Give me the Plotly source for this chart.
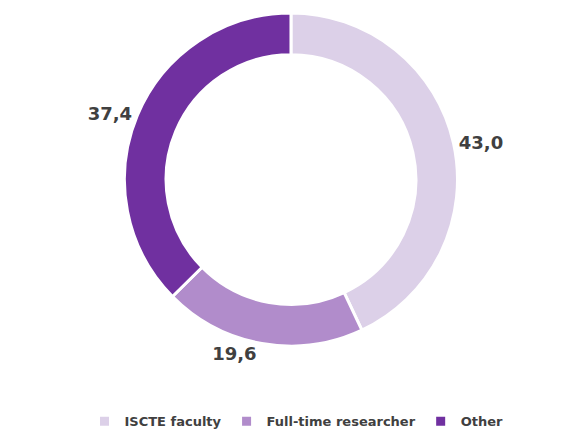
import plotly.graph_objects as go

categories = ["ISCTE faculty", "Full-time researcher", "Other"]
shares = [43.0, 19.6, 37.4]
colors = ["#DCD0E8", "#B18CCB", "#7030A0"]

TEXT = "#404040"
FONT = "DejaVu Sans"

fig = go.Figure(
    go.Pie(
        labels=categories,
        values=shares,
        hole=0.75,
        sort=False,
        direction="clockwise",
        rotation=0,
        domain=dict(x=[0, 0.974], y=[0.229, 1.0]),
        marker=dict(colors=colors, line=dict(color="white", width=3)),
        textposition="outside",
        texttemplate="%{value:.1f}",
        textfont=dict(size=18, color=TEXT, family=FONT, weight="bold"),
        hoverinfo="label+value",
    )
)

fig.update_layout(
    width=575,
    height=437,
    paper_bgcolor="white",
    plot_bgcolor="white",
    separators=", ",
    font=dict(family=FONT, color=TEXT),
    showlegend=True,
    legend=dict(
        orientation="h",
        traceorder="normal",
        x=0.5,
        xanchor="center",
        y=0.02,
        yanchor="bottom",
        font=dict(size=13, color=TEXT, family=FONT, weight="bold"),
    ),
    margin=dict(l=0, r=0, t=0, b=0),
)

fig.write_html("out.html")
